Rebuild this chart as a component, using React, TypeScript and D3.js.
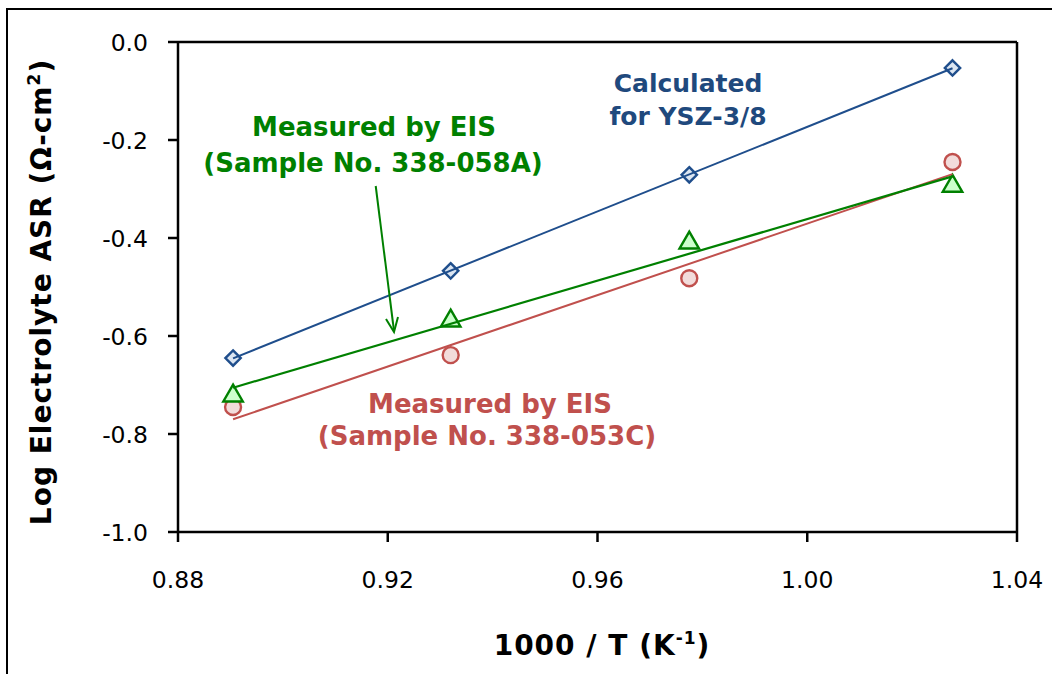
import React from "react";
import * as d3 from "d3";

const invT: number[] = [0.8905, 0.932, 0.9775, 1.0277];
const calcYSZ: number[] = [-0.645, -0.467, -0.271, -0.053];
const meas053C: number[] = [-0.745, -0.639, -0.482, -0.245];
const meas058A: number[] = [-0.72, -0.567, -0.408, -0.292];
const xTicks: number[] = [0.88, 0.92, 0.96, 1.0, 1.04];
const yTicks: number[] = [0, -0.2, -0.4, -0.6, -0.8, -1.0];

const W = 1052, H = 674;
const left = 178, right = 1017, top = 42, bottom = 532;

function fit(xs: number[], ys: number[]) {
  const mx = d3.mean(xs)!, my = d3.mean(ys)!;
  let sxy = 0, sxx = 0;
  xs.forEach((x, i) => { sxy += (x - mx) * (ys[i] - my); sxx += (x - mx) * (x - mx); });
  const b = sxy / sxx;
  const a = my - b * mx;
  return (x: number) => a + b * x;
}

const BLUE = "#1F4E8C";
const RED = "#C0504D";
const GREEN = "#008000";

export default function App() {
  const x = d3.scaleLinear().domain([0.88, 1.04]).range([left, right]);
  const y = d3.scaleLinear().domain([-1, 0]).range([bottom, top]);
  const x0 = invT[0], x1 = invT[invT.length - 1];
  const trend = (vals: number[]) => {
    const f = fit(invT, vals);
    return d3.line<number>().x((v) => x(v)).y((v) => y(f(v)))([x0, x1]) || "";
  };
  const diamond = d3.symbol().type(d3.symbolDiamond2).size(150)() || "";
  const tri = d3.symbol().type(d3.symbolTriangle).size(165)() || "";
  const font = "'DejaVu Sans', Verdana, sans-serif";

  return (
    <svg width={W} height={H} style={{ position: "absolute", left: 0, top: 0, background: "#fff" }} fontFamily={font}>
      <rect x={7} y={9} width={W + 20} height={H + 20} fill="#fff" stroke="#000" strokeWidth={2} />
      {/* axes */}
      <line x1={left} y1={top} x2={right} y2={top} stroke="#000" strokeWidth={2.5} />
      <line x1={right} y1={top} x2={right} y2={bottom} stroke="#000" strokeWidth={2.5} />
      <line x1={left} y1={bottom} x2={right} y2={bottom} stroke="#000" strokeWidth={2.5} />
      <line x1={left} y1={top} x2={left} y2={bottom} stroke="#000" strokeWidth={2.5} />
      {yTicks.map((t) => (
        <g key={"y" + t}>
          <line x1={left - 10} x2={left} y1={y(t)} y2={y(t)} stroke="#000" strokeWidth={2.5} />
          <text x={148} y={y(t) + 9} fontSize={23.5} textAnchor="end" fill="#000">{t.toFixed(1)}</text>
        </g>
      ))}
      {xTicks.map((t) => (
        <g key={"x" + t}>
          <line x1={x(t)} x2={x(t)} y1={bottom} y2={bottom + 10} stroke="#000" strokeWidth={2.5} />
          <text x={x(t)} y={588} fontSize={23.5} textAnchor="middle" fill="#000">{t.toFixed(2)}</text>
        </g>
      ))}
      {/* markers */}
      {invT.map((v, i) => (
        <path key={"b" + i} d={diamond} transform={`translate(${x(v)},${y(calcYSZ[i])})`} fill="#DCE6F2" stroke={BLUE} strokeWidth={2.4} />
      ))}
      {invT.map((v, i) => (
        <circle key={"r" + i} cx={x(v)} cy={y(meas053C[i])} r={8} fill="#F2DCDB" stroke={RED} strokeWidth={2.4} />
      ))}
      {invT.map((v, i) => (
        <path key={"g" + i} d={tri} transform={`translate(${x(v)},${y(meas058A[i]) + 1})`} fill="#CCFFCC" stroke={GREEN} strokeWidth={2.4} />
      ))}
      {/* trendlines */}
      <path d={trend(calcYSZ)} stroke={BLUE} strokeWidth={2} fill="none" />
      <path d={trend(meas053C)} stroke={RED} strokeWidth={2} fill="none" />
      <path d={trend(meas058A)} stroke={GREEN} strokeWidth={2.2} fill="none" />
      {/* annotations */}
      <g fontWeight="bold" fontSize={26} textAnchor="middle">
        <text x={688} y={92} fill="#1F497D" fontSize={25}>Calculated</text>
        <text x={688} y={125} fill="#1F497D" fontSize={25}>for YSZ-3/8</text>
        <text x={374} y={136} fill={GREEN}>Measured by EIS</text>
        <text x={373} y={172} fill={GREEN}>(Sample No. 338-058A)</text>
        <text x={490} y={413} fill={RED}>Measured by EIS</text>
        <text x={487} y={445} fill={RED}>(Sample No. 338-053C)</text>
      </g>
      <line x1={375.7} y1={186} x2={394} y2={331} stroke={GREEN} strokeWidth={2} />
      <path d="M386,319 L394,332 L398,317" stroke={GREEN} strokeWidth={2} fill="none" />
      {/* axis titles */}
      <text x={602} y={655} fontSize={28} fontWeight="bold" textAnchor="middle" fill="#000" letterSpacing={1}>
        1000 / T (K<tspan fontSize={17} dy={-11}>-1</tspan><tspan dy={11}>)</tspan>
      </text>
      <text transform="translate(51,292) rotate(-90)" fontSize={28} fontWeight="bold" textAnchor="middle" fill="#000" letterSpacing={1}>
        Log Electrolyte ASR (Ω-cm<tspan fontSize={17} dy={-11}>2</tspan><tspan dy={11}>)</tspan>
      </text>
    </svg>
  );
}
